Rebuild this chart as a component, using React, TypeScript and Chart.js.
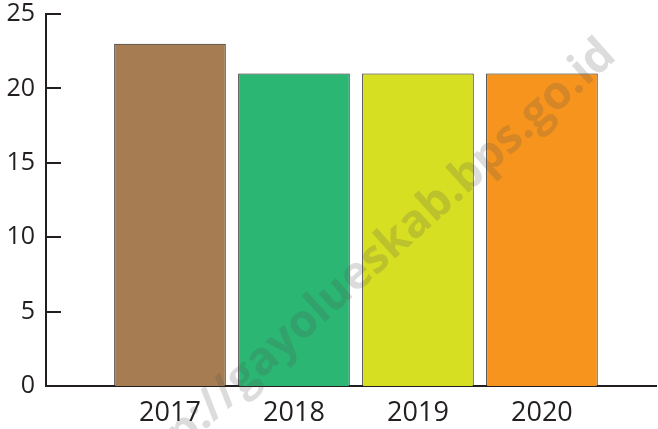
import React, { useEffect, useRef } from "react";
import { Chart, registerables } from "chart.js";

Chart.register(...registerables);

const years = ["2017", "2018", "2019", "2020"];
const values = [23, 21, 21, 21];
const barColors = ["#A67C52", "#2BB673", "#D7DF23", "#F7941D"];
const yTicks = [0, 5, 10, 15, 20, 25];
const watermark = "http://gayolueskab.bps.go.id";

const AXIS = "#231F20";

export default function App() {
  const ref = useRef<HTMLCanvasElement | null>(null);

  useEffect(() => {
    if (!ref.current) return;
    const innerTicks = {
      id: "innerTicks",
      afterDatasetsDraw(chart: any) {
        const { ctx, chartArea, scales } = chart;
        const y = scales.y;
        ctx.save();
        ctx.strokeStyle = AXIS;
        ctx.lineWidth = 2;
        y.ticks.forEach((t: any) => {
          const py = Math.round(y.getPixelForValue(t.value));
          ctx.beginPath();
          ctx.moveTo(chartArea.left, py);
          ctx.lineTo(chartArea.left + 15, py);
          ctx.stroke();
        });
        ctx.restore();
      },
    };
    const wm = {
      id: "watermark",
      afterDraw(chart: any) {
        const { ctx } = chart;
        ctx.save();
        ctx.translate(618, 58);
        ctx.rotate((-42 * Math.PI) / 180);
        ctx.font = "bold 46px 'Open Sans'";
        ctx.textAlign = "right";
        ctx.textBaseline = "alphabetic";
        ctx.fillStyle = "rgba(80,80,80,0.2)";
        ctx.fillText(watermark, 0, 0);
        ctx.restore();
      },
    };
    const chart = new Chart(ref.current, {
      type: "bar",
      data: {
        datasets: [
          {
            data: values.map((v, i) => ({ x: i, y: v })),
            backgroundColor: barColors,
            borderColor: AXIS,
            borderWidth: 1,
            categoryPercentage: 1,
            barPercentage: 0.9,
          },
        ],
      },
      options: {
        animation: false,
        responsive: false,
        maintainAspectRatio: false,
        layout: { padding: { top: 14, right: 2, bottom: 0, left: 0 } },
        plugins: { legend: { display: false }, tooltip: { enabled: false } },
        scales: {
          x: {
            type: "linear",
            offset: false,
            min: -1,
            max: 3.92,
            grid: { display: false, drawTicks: false, offset: false },
            border: { display: true, color: AXIS, width: 2 },
            afterFit: (s: any) => {
              s.height = 43;
              s.paddingLeft = 0;
              s.paddingRight = 0;
            },
            ticks: {
              stepSize: 1,
              includeBounds: false,
              autoSkip: false,
              maxRotation: 0,
              padding: 11,
              color: AXIS,
              font: { family: "'Open Sans'", size: 27 },
              callback: (v: any) => {
                const n = Number(v);
                return Number.isInteger(n) && n >= 0 && n < years.length ? years[n] : "";
              },
            },
          },
          y: {
            min: 0,
            max: 25,
            grid: { display: false, drawTicks: false },
            border: { display: true, color: AXIS, width: 2 },
            afterFit: (s: any) => {
              s.width = 46;
              s.paddingTop = 0;
              s.paddingBottom = 0;
            },
            afterBuildTicks: (s: any) => {
              s.ticks = yTicks.map((v) => ({ value: v }));
            },
            ticks: {
              padding: 11,
              color: AXIS,
              font: { family: "'Open Sans'", size: 25 },
            },
          },
        },
      },
      plugins: [innerTicks, wm],
    });
    return () => chart.destroy();
  }, []);

  return (
    <div style={{ position: "fixed", left: 0, top: 0, width: 658, height: 429, background: "#fff" }}>
      <canvas ref={ref} width={658} height={429} style={{ width: 658, height: 429 }} />
    </div>
  );
}
